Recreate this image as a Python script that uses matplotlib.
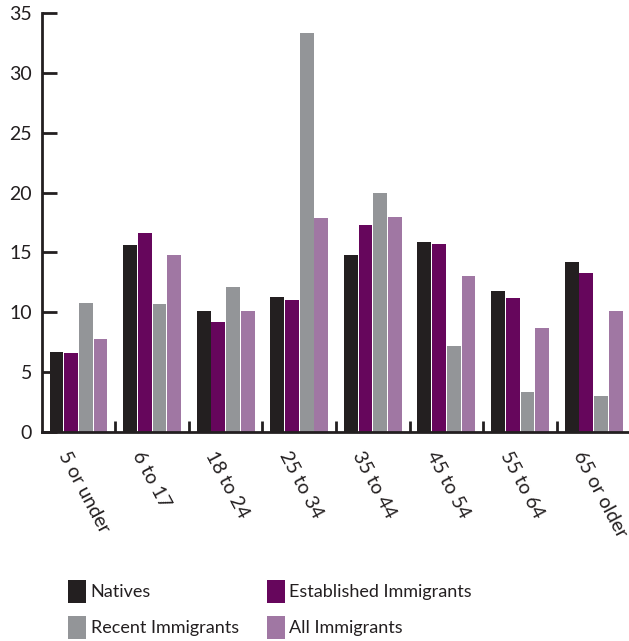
import matplotlib
matplotlib.use("Agg")
import matplotlib.pyplot as plt
import numpy as np

age_groups = ["5 or under", "6 to 17", "18 to 24", "25 to 34",
              "35 to 44", "45 to 54", "55 to 64", "65 or older"]
natives = [6.7, 15.6, 10.1, 11.3, 14.8, 15.9, 11.8, 14.2]
established = [6.6, 16.6, 9.2, 11.0, 17.3, 15.7, 11.2, 13.3]
recent = [10.8, 10.7, 12.1, 33.4, 20.0, 7.2, 3.3, 3.0]
all_immigrants = [7.8, 14.8, 10.1, 17.9, 18.0, 13.0, 8.7, 10.1]

series = [("Natives", natives, "#231f20"),
          ("Established Immigrants", established, "#66065c"),
          ("Recent Immigrants", recent, "#939598"),
          ("All Immigrants", all_immigrants, "#a077a3")]

plt.rcParams['font.family'] = ['Lato', 'DejaVu Sans']
ink = "#231f20"

fig = plt.figure(figsize=(6.29, 6.41), dpi=100)
ax = fig.add_axes([0.0663, 0.3265, 0.9337, 0.6525])

x = np.arange(len(age_groups))
width = 0.2
offsets = [-1.5, -0.5, 0.5, 1.5]
handles = []
for (name, vals, col), off in zip(series, offsets):
    b = ax.bar(x + off * width, vals, width * 0.94, color=col, label=name)
    handles.append(b)

ax.set_xlim(-0.5, 7.48)
ax.set_ylim(0, 35)
ax.set_yticks(range(0, 36, 5))

# spines
for s in ["top", "right"]:
    ax.spines[s].set_visible(False)
for s in ["left", "bottom"]:
    ax.spines[s].set_linewidth(2)
    ax.spines[s].set_color(ink)

ax.tick_params(axis="y", direction="in", length=11, width=2, color=ink,
               labelsize=14, labelcolor=ink, pad=7)

# group labels at centres, small dividers between groups
ax.set_xticks(x)
ax.set_xticklabels([])
ax.tick_params(axis="x", which="major", length=0)
ax.set_xticks(x[:-1] + 0.5, minor=True)
ax.tick_params(axis="x", which="minor", direction="in", length=8, width=2, color=ink)

for xi, lab in zip(x, age_groups):
    ax.text(xi - 0.11, -1.4, lab, rotation=-62, rotation_mode="anchor",
            ha="left", va="top", fontsize=14, color=ink)

# legend: Natives / Established on row 1, Recent / All on row 2
order = [handles[0], handles[2], handles[1], handles[3]]
labels = ["Natives", "Recent Immigrants", "Established Immigrants", "All Immigrants"]
fig.legend(order, labels, ncol=2, frameon=False, fontsize=13,
           loc="upper left", bbox_to_anchor=(0.097, 0.107),
           handlelength=1.0, handleheight=1.6, handletextpad=0.25,
           columnspacing=1.55, labelspacing=0.72, borderaxespad=0,
           labelcolor=ink)

fig.savefig("out.png", dpi=100)
